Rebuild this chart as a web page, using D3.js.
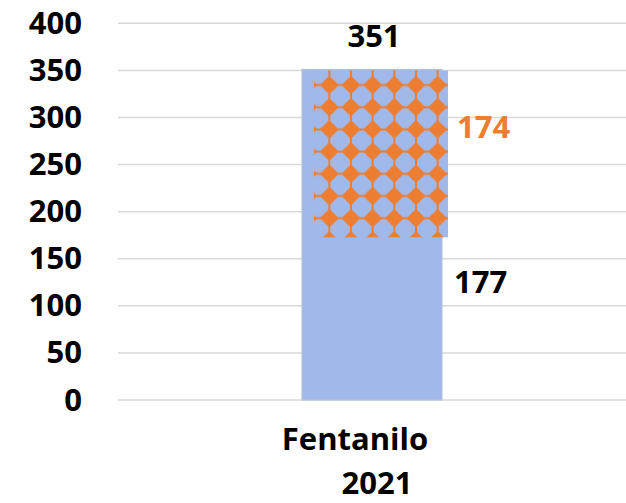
<!DOCTYPE html>
<html>
<head>
<meta charset="utf-8">
<script src="https://cdn.jsdelivr.net/npm/d3@7"></script>
<style>
  html, body { margin: 0; padding: 0; background: #fff; }
  svg { display: block; }
  text { font-family: "Open Sans", "Noto Sans", sans-serif; font-weight: 700; }
</style>
</head>
<body>
<svg id="chart" width="626" height="503"></svg>
<script>
// ---- data ----
const categories = ["Fentanilo 2021"];
const categoryLines = ["Fentanilo", "2021"];
const baseValues = [177];      // lower segment (solid blue)
const topValues = [174];       // upper segment (patterned)
const totalValues = [351];     // total label
const yTicks = [0, 50, 100, 150, 200, 250, 300, 350, 400];

const W = 626, H = 503;
const blue = "#A0B9EA", orange = "#ED7D31", grid = "#D9D9D9";

const svg = d3.select("#chart");

const y = d3.scaleLinear().domain([0, 400]).range([400, 23.3]);
const x = d3.scaleBand().domain(categories).range([118, 626]).paddingInner(0).paddingOuter(1.314);

// pattern
const pw = 21.67, ph = 22.2;
const defs = svg.append("defs");
const pat = defs.append("pattern")
  .attr("id", "diamonds")
  .attr("patternUnits", "userSpaceOnUse")
  .attr("width", pw).attr("height", ph)
  .attr("x", 329.3 - pw / 2).attr("y", 85 - ph / 2);
pat.append("rect").attr("width", pw).attr("height", ph).attr("fill", blue);
const cx = pw / 2, cy = ph / 2, r = 9.4;
pat.append("path")
  .attr("d", `M${cx - r},${cy} L${cx},${cy - r} L${cx + r},${cy} L${cx},${cy + r} Z`)
  .attr("fill", orange);
// short stubs linking tips to neighbours
[[0, cy - 1, 3, 2], [pw - 3, cy - 1, 3, 2], [cx - 1, 0, 2, 3], [cx - 1, ph - 3, 2, 3]].forEach(s =>
  pat.append("rect").attr("x", s[0]).attr("y", s[1]).attr("width", s[2]).attr("height", s[3]).attr("fill", orange));

// gridlines
svg.append("g").selectAll("line").data(yTicks).join("line")
  .attr("x1", 118).attr("x2", W)
  .attr("y1", d => y(d)).attr("y2", d => y(d))
  .attr("stroke", grid).attr("stroke-width", 1.5);

// y tick labels
svg.append("g").selectAll("text").data(yTicks).join("text")
  .attr("x", 82).attr("y", d => y(d) + 10.5)
  .attr("text-anchor", "end")
  .attr("font-size", 31)
  .attr("fill", "#000")
  .text(d => d);

// full bar (base + top) in blue
const bw = x.bandwidth();
svg.append("g").selectAll("rect").data(categories).join("rect")
  .attr("x", d => x(d))
  .attr("width", bw)
  .attr("y", (d, i) => y(baseValues[i] + topValues[i]))
  .attr("height", (d, i) => y(0) - y(baseValues[i] + topValues[i]))
  .attr("fill", blue)
  .attr("stroke", "#B7C3DA").attr("stroke-width", 1.2);

// patterned top segment (offset as in the reference rendering)
const offX = 12, offY = 1;
svg.append("g").selectAll("rect").data(categories).join("rect")
  .attr("x", d => x(d) + offX)
  .attr("width", bw - 6)
  .attr("y", (d, i) => y(baseValues[i] + topValues[i]) + offY)
  .attr("height", (d, i) => y(baseValues[i]) - y(baseValues[i] + topValues[i]) + 3)
  .attr("fill", "url(#diamonds)");

// value labels
const lab = svg.append("g").attr("font-size", 31);
categories.forEach((c, i) => {
  const tot = baseValues[i] + topValues[i];
  lab.append("text")
    .attr("x", x(c) + bw / 2 + 2).attr("y", y(tot) - 22.5)
    .attr("text-anchor", "middle").attr("fill", "#000")
    .text(totalValues[i]);
  lab.append("text")
    .attr("x", x(c) + bw + 15).attr("y", (y(tot) + y(baseValues[i])) / 2 - 13)
    .attr("fill", orange)
    .text(topValues[i]);
  lab.append("text")
    .attr("x", x(c) + bw + 12).attr("y", (y(baseValues[i]) + y(0)) / 2 - 23.5)
    .attr("fill", "#000")
    .text(baseValues[i]);
});

// category label (two lines)
const cxCat = x(categories[0]) + bw / 2;
svg.append("text")
  .attr("x", cxCat - 17).attr("y", 450)
  .attr("text-anchor", "middle").attr("font-size", 31).attr("fill", "#000")
  .text(categoryLines[0]);
svg.append("text")
  .attr("x", cxCat + 5).attr("y", 494)
  .attr("text-anchor", "middle").attr("font-size", 31).attr("fill", "#000")
  .text(categoryLines[1]);
</script>
</body>
</html>
